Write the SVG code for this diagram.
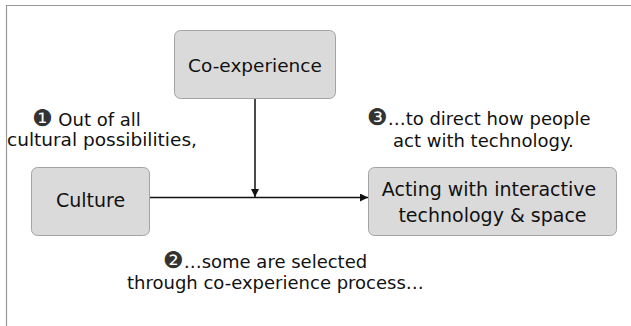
<svg xmlns="http://www.w3.org/2000/svg" width="631" height="326" viewBox="0 0 631 326">
  <style>
    .box { fill: #dadada; stroke: #a3a3a3; stroke-width: 1; }
    .lbl { font-family: "DejaVu Sans", Verdana, sans-serif; font-size: 18px; fill: #111; }
    .big { font-size: 19px; }
    .mid { text-anchor: middle; }
    .edge { stroke: #111; stroke-width: 1.5; fill: none; }
    .frame { stroke: #999; stroke-width: 1.2; fill: none; }
    .num { fill: #333; font-size: 23px; }
  </style>
  <defs>
    <marker id="arrow" viewBox="0 0 10 10" refX="10" refY="5" markerWidth="8" markerHeight="8" markerUnits="userSpaceOnUse" orient="auto">
      <path d="M0,0 L10,5 L0,10 z" fill="#111"/>
    </marker>
  </defs>

  <!-- frame edges -->
  <path class="frame" d="M6.5,326 V5.5 H631"/>

  <!-- connectors -->
  <g id="connectors">
    <path class="edge" d="M150,197.5 H368" marker-end="url(#arrow)" style="stroke-width:1.6"/>
    <path class="edge" d="M255,99 V197" marker-end="url(#arrow)"/>
  </g>

  <g id="co-experience">
    <rect class="box" x="174.5" y="30.5" width="161" height="68" rx="6"/>
    <text class="lbl mid" x="255" y="72" style="font-size:18.5px">Co-experience</text>
  </g>

  <g id="culture">
    <rect class="box" x="31.5" y="167.5" width="118" height="68" rx="6"/>
    <text class="lbl big mid" x="90.5" y="207">Culture</text>
  </g>

  <g id="acting">
    <rect class="box" x="368.5" y="167.5" width="248" height="68" rx="6"/>
    <text class="lbl big mid" x="489" y="196">Acting with interactive</text>
    <text class="lbl big mid" x="492.5" y="222">technology &amp; space</text>
  </g>

  <!-- annotations -->
  <g id="note-1">
    <text class="lbl" x="32" y="126"><tspan class="num" fill="#222">❶</tspan> Out of all</text>
    <text class="lbl" x="7" y="146" style="font-size:18.5px">cultural possibilities,</text>
  </g>
  <g id="note-2">
    <text class="lbl" x="163" y="268"><tspan class="num">❷</tspan>…some are selected</text>
    <text class="lbl" x="127" y="289">through co-experience process…</text>
  </g>
  <g id="note-3">
    <text class="lbl" x="367" y="125"><tspan class="num">❸</tspan>…to direct how people</text>
    <text class="lbl" x="393" y="147">act with technology.</text>
  </g>
</svg>
